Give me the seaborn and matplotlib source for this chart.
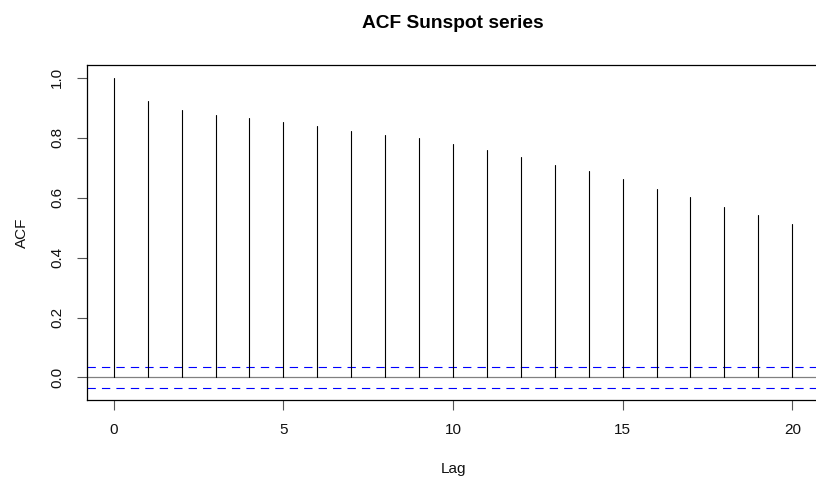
import numpy as np
import pandas as pd
import matplotlib
matplotlib.use("Agg")
import matplotlib.pyplot as plt
import seaborn as sns

# Data
lags = list(range(0, 21))
acf_values = [1.000, 0.921, 0.892, 0.877, 0.866, 0.852, 0.839, 0.822, 0.808,
              0.798, 0.779, 0.758, 0.735, 0.709, 0.688, 0.661, 0.630, 0.601,
              0.569, 0.541, 0.511]
ci_bound = 0.0348
x_ticks = [0, 5, 10, 15, 20]
y_ticks = [0.0, 0.2, 0.4, 0.6, 0.8, 1.0]

sns.set_style("white")
plt.rcParams['font.family'] = ['Liberation Sans', 'DejaVu Sans']

# long-format frame: each lag contributes a segment from 0 to its ACF value
rows = []
for l, v in zip(lags, acf_values):
    rows.append({"lag": l, "acf": 0.0})
    rows.append({"lag": l, "acf": v})
df = pd.DataFrame(rows)

fig = plt.figure(figsize=(8.16, 4.84), dpi=100)
ax = fig.add_axes([86.6 / 816, 83.7 / 484, (819.4 - 86.6) / 816, (400.3 - 65.3) / 484])

sns.lineplot(data=df, x="lag", y="acf", units="lag", estimator=None,
             color="black", linewidth=0.8, ax=ax, legend=False)

ax.axhline(0, color="#808080", linewidth=0.9, zorder=1)
for b in (ci_bound, -ci_bound):
    ax.axhline(b, color="blue", linewidth=0.8, linestyle=(0, (7.5, 5.5)), zorder=1)

xmin, xmax = min(lags), max(lags)
ax.set_xlim(xmin - 0.04 * (xmax - xmin), xmax + 0.04 * (xmax - xmin))
ylo, yhi = -ci_bound, max(acf_values)
ax.set_ylim(ylo - 0.04 * (yhi - ylo), yhi + 0.04 * (yhi - ylo))

ax.set_xticks(x_ticks)
ax.set_xticklabels([str(t) for t in x_ticks])
ax.set_yticks(y_ticks)
ax.set_yticklabels([f"{t:.1f}" for t in y_ticks], rotation=90, va="center")

ax.tick_params(axis="both", direction="out", length=7.2, width=0.8,
               color="#555555", labelsize=11, labelcolor="#111111", pad=9)
ax.tick_params(axis="x", bottom=True)
ax.tick_params(axis="y", left=True)

for s in ax.spines.values():
    s.set_visible(True)
    s.set_color("black")
    s.set_linewidth(0.9)

ax.set_xlabel("Lag", fontsize=11, labelpad=18, color="#111111")
ax.set_ylabel("ACF", fontsize=11, labelpad=15, color="#111111")
ax.set_title("ACF Sunspot series", fontsize=13.8, fontweight="bold", pad=27,
             color="black")

fig.savefig("out.png", dpi=100)
